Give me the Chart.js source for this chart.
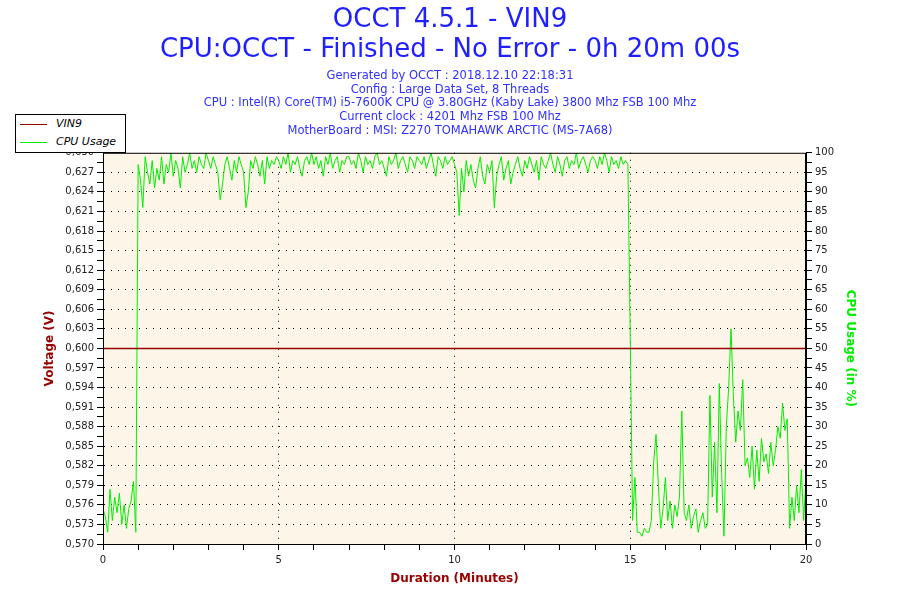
<!DOCTYPE html>
<html>
<head>
<meta charset="utf-8">
<title>OCCT 4.5.1 - VIN9</title>
<script src="https://cdn.jsdelivr.net/npm/chart.js@4.4.1/dist/chart.umd.min.js"></script>
<style>
    html, body { margin: 0; padding: 0; background: #fff; }
    .wrap { position: relative; width: 900px; height: 600px; }
    canvas { display: block; }
    .legend {
        position: absolute; left: 15px; top: 114px; width: 109px; height: 37px;
        border: 1px solid #000; background: #fff;
        font: italic 11px "DejaVu Sans", sans-serif; color: #000;
    }
    .legend div { position: relative; height: 18px; line-height: 18px; padding-left: 40px; }
    .legend span { position: absolute; left: 4px; top: 9px; width: 27px; height: 1px; }
</style>
</head>
<body>
<div class="wrap">
    <canvas id="occtChart" width="900" height="600"></canvas>
    <div class="legend">
        <div><span style="background:#990000"></span>VIN9</div>
        <div><span style="background:#00ee00"></span>CPU Usage</div>
    </div>
</div>
<script>
// one CPU reading every 4 seconds
const sampleSeconds = 4;
const cpuIdleStart = [9, 7, 3, 14, 6, 12, 8, 13, 5, 10, 4, 9, 11, 16, 3];
const cpuLoadA = [
    97, 93, 86, 99, 95, 92, 98, 91, 96, 93, 99, 92, 97, 95, 100,
    94, 98, 96, 91, 99, 95, 97, 100, 96, 98, 95, 99, 97, 96, 100,
    98, 96, 99, 97, 95, 88, 92, 97, 99, 96, 93, 98, 95, 99, 97,
    95, 86, 90, 98, 96, 99, 97, 94, 98, 92, 99, 96, 98, 97, 99
];
const cpuLoadB = [
    98, 96, 99, 97, 100, 95, 98, 97, 99, 96, 94, 98, 99, 97, 100,
    97, 99, 96, 98, 94, 99, 97, 100, 96, 98, 99, 95, 98, 97, 99,
    99, 97, 98, 96, 100, 98, 95, 99, 97, 98, 96, 99, 100, 97, 98,
    96, 94, 99, 97, 98, 100, 96, 98, 99, 97, 95, 99, 98, 96, 99,
    98, 97, 99, 96, 98, 100, 97, 94, 99, 98, 96, 99, 97, 98, 99
];
const cpuLoadC = [
    97, 95, 84, 96, 90, 98, 94, 97, 93, 91, 96, 99, 94, 92, 97,
    95, 98, 86, 94, 97, 99, 93, 96, 98, 92, 95, 97, 99, 96, 94,
    98, 96, 99, 97, 95, 98, 93, 99, 97, 96, 98, 100, 97, 95, 99,
    97, 94, 98, 99, 96, 98, 97, 100, 96, 98, 99, 97, 95, 98, 99,
    98, 96, 99, 97, 100, 98, 95, 99, 97, 98, 96, 99, 97, 98, 97
];
const cpuIdleEnd = [
    53, 6, 17, 3, 3, 2, 4, 3, 3, 6, 21, 28, 15, 4, 9,
    17, 6, 11, 4, 10, 7, 12, 34, 8, 6, 10, 4, 7, 9, 3,
    6, 8, 4, 5, 38, 12, 26, 8, 41, 18, 2, 30, 40, 55, 38,
    26, 34, 29, 42, 20, 22, 17, 25, 14, 24, 16, 27, 21, 23, 18,
    26, 20, 24, 30, 27, 36, 29, 32, 4, 12, 6, 15, 8, 19, 6,
    17
];

// VIN9 stays flat the whole run
const vin9Minutes = [0, 1, 2, 3, 4, 5, 6, 7, 8, 9, 10, 11, 12, 13, 14, 15, 16, 17, 18, 19, 20];
const vin9Values = [0.600, 0.600, 0.600, 0.600, 0.600, 0.600, 0.600, 0.600, 0.600, 0.600, 0.600,
                    0.600, 0.600, 0.600, 0.600, 0.600, 0.600, 0.600, 0.600, 0.600, 0.600];

const minuteLabels = [0, 5, 10, 15, 20];
const voltLabels = ['0,570', '0,573', '0,576', '0,579', '0,582', '0,585', '0,588', '0,591', '0,594', '0,597',
                    '0,600', '0,603', '0,606', '0,609', '0,612', '0,615', '0,618', '0,621', '0,624', '0,627', '0,630'];
const cpuLabels = ['0', '5', '10', '15', '20', '25', '30', '35', '40', '45', '50',
                   '55', '60', '65', '70', '75', '80', '85', '90', '95', '100'];

const cpuValues = [].concat(cpuIdleStart, cpuLoadA, cpuLoadB, cpuLoadC, cpuIdleEnd);
const cpuPoints = cpuValues.map((v, i) => ({ x: i * sampleSeconds / 60, y: v }));
const vinPoints = vin9Minutes.map((m, i) => ({ x: m, y: vin9Values[i] }));

const fontFamily = '"DejaVu Sans", Verdana, sans-serif';

const plotFrame = {
    id: 'plotFrame',
    beforeDraw(chart) {
        const a = chart.chartArea;
        chart.ctx.save();
        chart.ctx.fillStyle = '#fdf6e8';
        chart.ctx.fillRect(a.left, a.top, a.right - a.left, a.bottom - a.top);
        chart.ctx.restore();
    },
    afterDatasetsDraw(chart) {
        const a = chart.chartArea;
        chart.ctx.save();
        chart.ctx.strokeStyle = '#000';
        chart.ctx.lineWidth = 1;
        chart.ctx.strokeRect(a.left + 0.5, a.top + 0.5, a.right - a.left - 1, a.bottom - a.top);
        chart.ctx.restore();
    }
};

const occtChart = new Chart(document.getElementById('occtChart'), {
    type: 'line',
    data: {
        datasets: [
            {
                label: 'VIN9',
                data: vinPoints,
                yAxisID: 'yVolt',
                borderColor: '#990000',
                borderWidth: 1.5,
                pointRadius: 0,
                tension: 0
            },
            {
                label: 'CPU Usage',
                data: cpuPoints,
                yAxisID: 'yCpu',
                borderColor: '#00ee00',
                borderWidth: 1,
                pointRadius: 0,
                tension: 0
            }
        ]
    },
    options: {
        responsive: false,
        animation: false,
        layout: { padding: 0 },
        plugins: {
            legend: { display: false },
            tooltip: { enabled: false },
            title: {
                display: true,
                text: ['OCCT 4.5.1 - VIN9', 'CPU:OCCT - Finished - No Error - 0h 20m 00s'],
                color: '#2020ff',
                font: { family: fontFamily, size: 26, weight: 'normal', lineHeight: 1.154 },
                padding: { top: 5, bottom: 0 }
            },
            subtitle: {
                display: true,
                text: [
                    'Generated by OCCT : 2018.12.10 22:18:31',
                    'Config : Large Data Set, 8 Threads',
                    'CPU : Intel(R) Core(TM) i5-7600K CPU @ 3.80GHz (Kaby Lake) 3800 Mhz FSB 100 Mhz',
                    'Current clock : 4201 Mhz FSB 100 Mhz',
                    'MotherBoard : MSI: Z270 TOMAHAWK ARCTIC (MS-7A68)'
                ],
                color: '#3030ff',
                font: { family: fontFamily, size: 11.5, lineHeight: 1.196 },
                padding: { top: 4, bottom: 15 }
            }
        },
        scales: {
            x: {
                type: 'linear',
                position: 'bottom',
                min: 0,
                max: 20,
                afterFit: s => { s.height = 56; },
                ticks: {
                    stepSize: 1,
                    autoSkip: false,
                    maxRotation: 0,
                    padding: 4,
                    color: '#222',
                    font: { family: fontFamily, size: 10 },
                    callback: v => minuteLabels.includes(v) ? String(v) : ''
                },
                grid: {
                    color: c => (c.tick && c.tick.value % 5 === 0 && c.tick.value > 0 && c.tick.value < 20) ? '#000' : 'rgba(0,0,0,0)',
                    tickColor: '#000',
                    tickLength: 6
                },
                border: { color: '#000', dash: [1, 6] },
                title: {
                    display: true,
                    text: 'Duration (Minutes)',
                    color: '#990000',
                    font: { family: fontFamily, size: 12, weight: 'bold' },
                    padding: { top: 0, bottom: 14 }
                }
            },
            yVolt: {
                type: 'linear',
                position: 'left',
                min: 0.570,
                max: 0.630,
                afterFit: s => { s.width = 103; },
                ticks: {
                    stepSize: 0.0015,
                    autoSkip: false,
                    padding: 3,
                    color: '#222',
                    font: { family: fontFamily, size: 10 },
                    callback: v => {
                        const k = Math.round((v - 0.570) / 0.0015);
                        return k % 2 === 0 ? voltLabels[k / 2] : '';
                    }
                },
                grid: {
                    color: c => {
                        if (!c.tick) return 'rgba(0,0,0,0)';
                        const k = Math.round((c.tick.value - 0.570) / 0.0015);
                        return (k % 2 === 0 && k > 0 && k < 40) ? '#000' : 'rgba(0,0,0,0)';
                    },
                    tickColor: '#000',
                    tickLength: 6
                },
                border: { color: '#000', dash: [1, 6] },
                title: {
                    display: true,
                    text: 'Voltage (V)',
                    color: '#990000',
                    font: { family: fontFamily, size: 12, weight: 'bold' },
                    padding: { top: 43, bottom: 0 }
                }
            },
            yCpu: {
                type: 'linear',
                position: 'right',
                min: 0,
                max: 100,
                afterFit: s => { s.width = 94; },
                ticks: {
                    stepSize: 2.5,
                    autoSkip: false,
                    padding: 3,
                    color: '#222',
                    font: { family: fontFamily, size: 10 },
                    callback: v => (v % 5 === 0) ? cpuLabels[v / 5] : ''
                },
                grid: {
                    drawOnChartArea: false,
                    tickColor: '#000',
                    tickLength: 6
                },
                border: { color: '#000' },
                title: {
                    display: true,
                    text: 'CPU Usage (in %)',
                    color: '#00ee00',
                    font: { family: fontFamily, size: 12, weight: 'bold' },
                    padding: { top: 43, bottom: 0 }
                }
            }
        }
    },
    plugins: [plotFrame]
});
</script>
</body>
</html>
